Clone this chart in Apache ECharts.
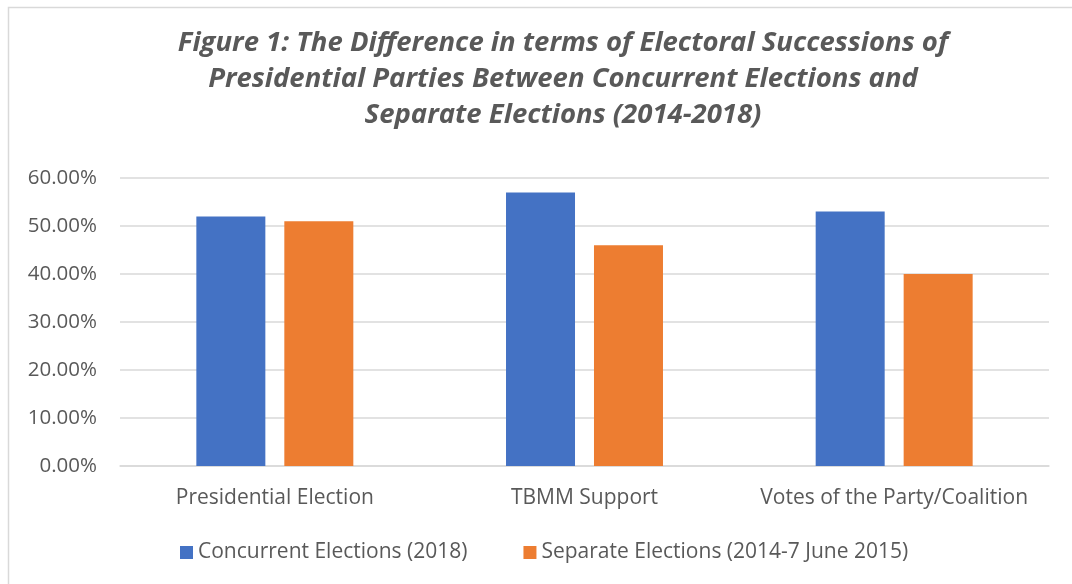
<!DOCTYPE html>
<html>
<head>
<meta charset="utf-8">
<script src="https://cdn.jsdelivr.net/npm/echarts@6/dist/echarts.min.js"></script>
<style>
html,body{margin:0;padding:0;background:#fff;}
#c{width:1072px;height:584px;}
</style>
</head>
<body>
<div id="c"></div>
<script>
const titleText = "Figure 1: The Difference in terms of Electoral Successions of\nPresidential Parties Between Concurrent Elections and\nSeparate Elections (2014-2018)";
const categories = ["Presidential Election", "TBMM Support", "Votes of the Party/Coalition"];
const seriesNames = ["Concurrent Elections (2018)", "Separate Elections (2014-7 June 2015)"];
const concurrentValues = [52, 57, 53];
const separateValues = [51, 46, 40];
const yTicks = [0, 10, 20, 30, 40, 50, 60];

const chart = echarts.init(document.getElementById('c'), null, {renderer: 'canvas'});
const textColor = '#595959';
chart.setOption({
  animation: false,
  backgroundColor: '#fff',
  graphic: [{
    type: 'rect',
    shape: {x: 8.5, y: 7.5, width: 1100, height: 620},
    style: {fill: 'none', stroke: '#D9D9D9', lineWidth: 1.5},
    silent: true
  }],
  title: {
    text: titleText,
    left: 558,
    textAlign: 'center',
    top: 20,
    textStyle: {
      fontFamily: 'Open Sans',
      fontStyle: 'italic',
      fontWeight: 'bold',
      fontSize: 27.5,
      lineHeight: 36,
      color: textColor
    }
  },
  legend: {
    data: seriesNames,
    left: 180,
    top: 542,
    padding: 0,
    icon: 'rect',
    itemWidth: 13,
    itemHeight: 13,
    itemGap: 56,
    textStyle: {fontFamily: 'Open Sans', fontSize: 21, color: textColor, padding: [0,0,0,0]}
  },
  grid: {left: 120, right: 23, top: 178, bottom: 118, containLabel: false},
  xAxis: {
    type: 'category',
    data: categories,
    axisLine: {show: true, lineStyle: {color: '#D9D9D9', width: 1.5}},
    axisTick: {show: false},
    axisLabel: {fontFamily: 'Open Sans', fontSize: 21, color: textColor, margin: 22, interval: 0, hideOverlap: false}
  },
  yAxis: {
    type: 'value',
    min: yTicks[0],
    max: yTicks[yTicks.length - 1],
    interval: 10,
    axisLine: {show: false},
    axisTick: {show: false},
    splitLine: {lineStyle: {color: '#D9D9D9', width: 1.5}},
    axisLabel: {
      fontFamily: 'Open Sans', fontSize: 20.5, color: textColor, margin: 23,
      formatter: v => v.toFixed(2) + '%'
    }
  },
  series: [
    {name: seriesNames[0], type: 'bar', data: concurrentValues, barWidth: 69, barGap: '27.5%',
     itemStyle: {color: '#4472C4'}},
    {name: seriesNames[1], type: 'bar', data: separateValues, barWidth: 69,
     itemStyle: {color: '#ED7D31'}}
  ]
});
</script>
</body>
</html>
